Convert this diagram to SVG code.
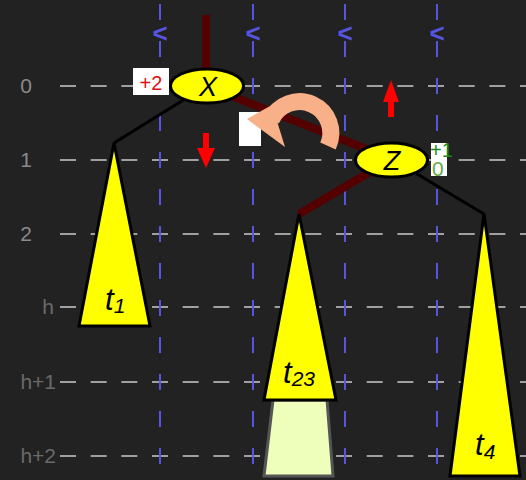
<svg xmlns="http://www.w3.org/2000/svg" width="526" height="480" viewBox="0 0 526 480">
<defs>
<style>
.hgrid{stroke:#a0a0a0;stroke-width:2;stroke-dasharray:16 14.67;fill:none}
.vgrid{stroke:#5555e0;stroke-width:2;stroke-dasharray:16 21;fill:none}
.chev{fill:#5555e0;font-family:"Liberation Sans",Arial,sans-serif;font-size:26px;font-weight:bold;text-anchor:middle}
.lvl{fill:#8a8a8a;font-family:"Liberation Sans",Arial,sans-serif;font-size:21px;text-anchor:middle}
.lvl2{fill:#6a6a6a;font-family:"Liberation Sans",Arial,sans-serif;font-size:21px;text-anchor:end}
.node{fill:#ffff00;stroke:#000;stroke-width:3}
.tree{fill:#ffff00;stroke:#000;stroke-width:3;stroke-linejoin:miter}
.nlabel{font-family:"Liberation Sans",Arial,sans-serif;font-size:27px;font-style:italic;text-anchor:middle;fill:#000}
.tlabel{font-family:"Liberation Sans",Arial,sans-serif;font-style:italic;fill:#000}
.red{stroke:#550000;stroke-width:8;fill:none}
.blk{stroke:#000;stroke-width:3;fill:none}
.salmon{fill:#f8b088}
</style>
</defs>
<rect width="526" height="480" fill="#222222"/>
<g id="grid">
<line class="hgrid" x1="60" y1="86" x2="526" y2="86"/>
<line class="hgrid" x1="60" y1="160" x2="526" y2="160"/>
<line class="hgrid" x1="60" y1="234" x2="526" y2="234"/>
<line class="hgrid" x1="60" y1="307" x2="526" y2="307"/>
<line class="hgrid" x1="60" y1="382" x2="526" y2="382"/>
<line class="hgrid" x1="60" y1="456" x2="526" y2="456"/>
<line class="vgrid" x1="160" y1="4" x2="160" y2="480"/>
<line class="vgrid" x1="253" y1="4" x2="253" y2="480"/>
<line class="vgrid" x1="345" y1="4" x2="345" y2="480"/>
<line class="vgrid" x1="437" y1="4" x2="437" y2="480"/>
<text class="chev" x="160" y="42">&lt;</text>
<text class="chev" x="253" y="42">&lt;</text>
<text class="chev" x="345" y="42">&lt;</text>
<text class="chev" x="437" y="42">&lt;</text>
<text class="lvl" x="26" y="93">0</text>
<text class="lvl" x="26" y="167">1</text>
<text class="lvl" x="26" y="241">2</text>
<text class="lvl2" x="54" y="314">h</text>
<text class="lvl2" x="56" y="389">h+1</text>
<text class="lvl2" x="56" y="463">h+2</text>
</g>
<g id="connectors">
<line class="red" x1="206" y1="15" x2="206" y2="86"/>
<line class="red" x1="206" y1="86" x2="392" y2="159"/>
<line class="red" x1="392" y1="159" x2="299" y2="214"/>
<line class="blk" x1="206" y1="86" x2="114" y2="143"/>
<line class="blk" x1="392" y1="159" x2="484" y2="214"/>
</g>
<g id="t1">
<polygon class="tree" points="114,143 150,326 79,326"/>
<text class="tlabel" x="105" y="310" font-size="31">t<tspan font-size="21" dy="3">1</tspan></text>
</g>
<g id="t23">
<polygon points="273,400 327,400 333,476 264,476" fill="#eeffbb" stroke="#555" stroke-width="3"/>
<polygon class="tree" points="299,214 336,400 264,400"/>
<text class="tlabel" x="283" y="383" font-size="31">t<tspan font-size="21" dy="3">23</tspan></text>
</g>
<g id="t4">
<polygon class="tree" points="484,214 520,476 450,476"/>
<text class="tlabel" x="475" y="455" font-size="31">t<tspan font-size="21" dy="4">4</tspan></text>
</g>
<g id="X">
<ellipse class="node" cx="207" cy="86" rx="36.5" ry="17"/>
<text class="nlabel" x="208" y="96">X</text>
<rect x="133" y="68" width="36" height="27" fill="#fff"/>
<text x="151" y="90" font-family="Liberation Sans,Arial,sans-serif" font-size="20" fill="#dd1111" text-anchor="middle">+2</text>
</g>
<g id="Z">
<ellipse class="node" cx="391.5" cy="160" rx="36" ry="17"/>
<text class="nlabel" x="392" y="170">Z</text>
<rect x="431" y="143" width="16" height="33" fill="#fff"/>
<text x="430" y="157" font-family="Liberation Sans,Arial,sans-serif" font-size="20" fill="#228822">+1</text>
<text x="432" y="176" font-family="Liberation Sans,Arial,sans-serif" font-size="21" fill="#66aa44">0</text>
</g>
<g id="rotation">
<rect x="239" y="112" width="22" height="34" fill="#fff"/>
<path d="M328,146 A31,31 0 1 0 271,120" stroke="#f8b088" stroke-width="17" fill="none"/>
<polygon class="salmon" points="247,119 272,105 285,147"/>
</g>
<g id="arrows">
<polygon points="203,133 209,133 209,148 215,148 206,168 197,148 203,148" fill="#ff0000"/>
<polygon points="388,117 394,117 394,102 399,102 391,80 383,102 388,102" fill="#ff0000"/>
</g>
</svg>
